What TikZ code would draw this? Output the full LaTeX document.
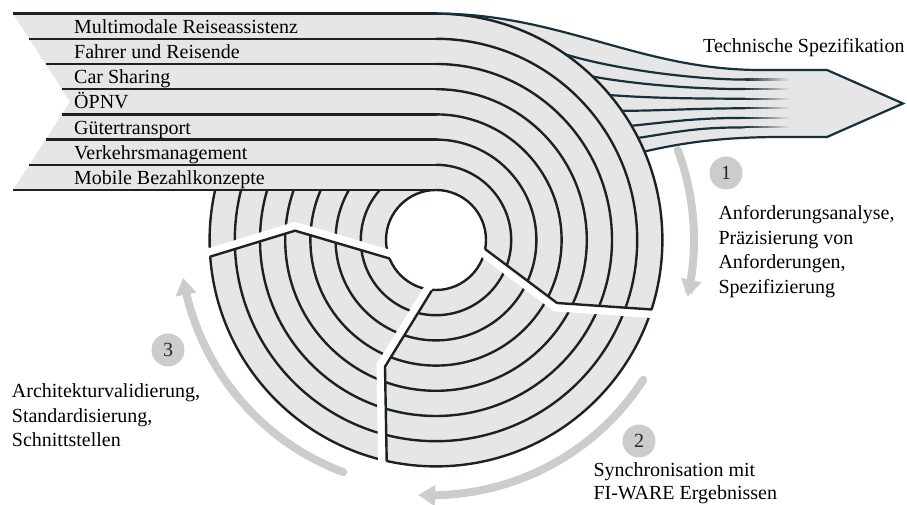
\documentclass[tikz,border=0pt]{standalone}
\usepackage{fontspec}
\setmainfont{Liberation Serif}
\usetikzlibrary{calc,arrows.meta}
\definecolor{bandfill}{HTML}{E6E6E6}
\definecolor{bandline}{HTML}{1B2226}
\definecolor{flowline}{HTML}{18303A}
\definecolor{cyclegray}{HTML}{CCCCCC}
\begin{document}
\begin{tikzpicture}[x=1pt,y=1pt,
  band/.style={line width=2.4pt, draw=bandline},
  flow/.style={line width=2.2pt, draw=flowline},
  gapcut/.style={line width=8pt, draw=white, line cap=butt, line join=miter},
  cutedge/.style={line width=2.4pt, draw=bandline, line cap=butt, line join=miter},
  cyclearrow/.style={line width=8pt, draw=cyclegray, line cap=round,
    -{Triangle[width=20pt,length=17pt]}},
  badge/.style={circle, fill=cyclegray, minimum size=33pt, inner sep=0pt,
    text=black!85, font=\fontsize{20}{20}\selectfont},
  txt/.style={font=\fontsize{20}{24}\selectfont, anchor=base west, inner sep=0pt}
]
\useasboundingbox (0,0) rectangle (907,505);
\coordinate (C) at (436,265);
\def\rin{50}
\def\bw{25.2}
\def\rout{226.4}

% output arrow body (behind the rings)
\fill[bandfill] (436,491.4) .. controls (560,491.4) and (640,435) .. (760,435)
  -- (827,435) -- (903,401.5) -- (827,368) -- (783,368)
  .. controls (730,368) and (690,364) .. ($(C)+(23:\rout)$)
  arc[start angle=23, end angle=90, radius=\rout] -- cycle;

% concentric rings
\fill[bandfill, even odd rule] (C) circle[radius=\rout] (C) circle[radius=\rin];
\foreach \k in {0,...,7}
  \draw[band] (C) circle[radius={\rin+\k*\bw}];

% incoming horizontal bands with chevron tail
\fill[bandfill] (13,491.4) -- (70,403.2) -- (13,315) -- (436,315) -- (436,491.4) -- cycle;
\foreach \k/\xs in {0/13, 1/29.3, 2/45.6, 3/61.9, 4/61.9, 5/45.6, 6/29.3, 7/13}
  \draw[band] (\xs,{315+\k*\bw}) -- (436.5,{315+\k*\bw});

% outline of the output arrow
\draw[flow, line join=miter] (436,491.4) .. controls (560,491.4) and (640,435) .. (760,435)
  -- (827,435) -- (903,401.5) -- (827,368) -- (783,368)
  .. controls (730,368) and (690,364) .. ($(C)+(23:\rout)$);

% bands merging into the output arrow, fading out
\foreach \a/\y/\dx/\dy in {55/425.4/50/-15, 46.2/415.9/45/-8, 39.8/406.3/40/-3,
    34.8/396.7/40/0, 30.3/387.1/40/4, 26.8/377.6/40/6} {
  \draw[flow] ($(C)+(\a:\rout)$) .. controls +(\dx,\dy) and +(-50,0) .. (745,\y);
  \foreach \i in {0,...,9} {
    \pgfmathtruncatemacro\pc{95-10*\i}
    \draw[line width=2.2pt, draw=flowline!\pc!bandfill]
      ({745+4.5*\i},\y) -- ({745+4.5*\i+4.7},\y);
  }
}

% cuts between the three phases
\draw[gapcut] (478.3,255.4) -- (555.4,197.6) -- (657.7,190.6);
\draw[cutedge] (485,256) -- (557,202) -- (652,195.5);
\draw[gapcut] (431,221.8) -- (380.5,139.5) -- (382.3,35.9);
\draw[cutedge] (431.7,214.3) -- (385,138.3) -- (386.7,44);
\draw[gapcut] (396.6,249.1) -- (295,279) -- (201,250.3);
\draw[cutedge] (389.5,246.5) -- (295,274.3) -- (210,248.3);

% cycle arrows
\draw[cyclearrow] plot[domain=20.4:-12.7, samples=40]
  ({436+258*cos(\x)}, {265+258*sin(\x)});
\draw[cyclearrow] plot[domain=-34:-94, samples=40]
  ({436+(250+5.6*(\x+34)/(-60))*cos(\x)}, {265+(250+5.6*(\x+34)/(-60))*sin(\x)});
\draw[cyclearrow] plot[domain=248.2:188.5, samples=40]
  ({436+(250+5.8*(248.2-\x)/59.7)*cos(\x)}, {265+(250+5.8*(248.2-\x)/59.7)*sin(\x)});

% phase badges
\node[badge] (b1) at (726,332) {1};
\node[badge] (b2) at (639,64) {2};
\node[badge] (b3) at (168,155) {3};

% band labels
\foreach \j/\t in {0/Multimodale Reiseassistenz, 1/Fahrer und Reisende, 2/Car Sharing,
    3/ÖPNV, 4/Gütertransport, 5/Verkehrsmanagement, 6/Mobile Bezahlkonzepte}
  \node[txt] (band\j) at (74,{471.7-25.2*\j}) {\t};

\node[txt] (spec) at (703,452) {Technische Spezifikation};

\node[txt] (p1a) at (718.3,285) {Anforderungsanalyse,};
\node[txt] (p1b) at (718.3,260.6) {Präzisierung von};
\node[txt] (p1c) at (718.3,236.2) {Anforderungen,};
\node[txt] (p1d) at (718.3,211.8) {Spezifizierung};

\node[txt] (p2a) at (593.3,28.3) {Synchronisation mit};
\node[txt] (p2b) at (593.3,5) {FI-WARE Ergebnissen};

\node[txt] (p3a) at (11.7,107.3) {Architekturvalidierung,};
\node[txt] (p3b) at (11.7,82.9) {Standardisierung,};
\node[txt] (p3c) at (11.7,58.5) {Schnittstellen};
\end{tikzpicture}
\end{document}
